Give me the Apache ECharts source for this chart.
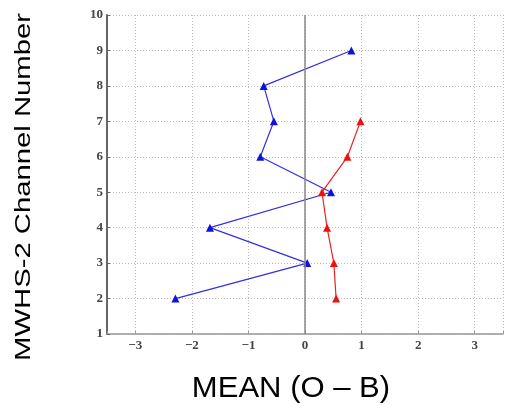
<!DOCTYPE html>
<html><head><meta charset="utf-8">
<script src="https://cdn.jsdelivr.net/npm/echarts@6/dist/echarts.min.js"></script>
<style>html,body{margin:0;padding:0;background:#fff}#c{width:506px;height:406px}</style>
</head><body><div id="c"></div>
<script>
const channels = [2, 3, 4, 5, 6, 7, 8, 9];
const blueMean = [-2.29, 0.04, -1.68, 0.46, -0.79, -0.55, -0.73, 0.82];
const redChannels = [2, 3, 4, 5, 6, 7];
const redMean = [0.55, 0.51, 0.39, 0.30, 0.75, 0.98];
const xTicks = [-3, -2, -1, 0, 1, 2, 3];
const yTicks = [1, 2, 3, 4, 5, 6, 7, 8, 9, 10];
const xTitle = 'MEAN (O \u2013 B)';
const yTitle = 'MWHS-2 Channel Number';

const chart = echarts.init(document.getElementById('c'), null, {renderer: 'canvas'});
const labelFont = {fontFamily: 'Liberation Serif', fontSize: 13, fontWeight: 'bold', color: '#444'};
chart.setOption({
  animation: false,
  backgroundColor: '#fff',
  grid: {left: 107, top: 15, right: -1, bottom: 72},
  graphic: [
    {type: 'text', x: 24, y: 187, rotation: Math.PI / 2, scaleX: 1.33,
      style: {text: yTitle, font: '22px "Liberation Sans"', fill: '#000', align: 'center', verticalAlign: 'middle'}},
    {type: 'text', x: 291, y: 389, scaleX: 1.07,
      style: {text: xTitle, font: '29px "Liberation Sans"', fill: '#000', align: 'center', verticalAlign: 'middle'}}
  ],
  xAxis: {
    type: 'value', min: -3.5, max: 3.5,
    axisLine: {show: true, onZero: false, lineStyle: {color: '#999', width: 1.5}},
    axisTick: {show: true, inside: true, length: 3, lineStyle: {color: '#999'}},
    axisLabel: Object.assign({margin: 5, formatter: v => xTicks.includes(v) ? (v < 0 ? '\u2212' + Math.abs(v) : String(v)) : ''}, labelFont),
    splitLine: {show: true, lineStyle: {type: [1, 2], color: '#bbb', width: 1}}
  },
  yAxis: {
    type: 'value', min: 1, max: 10, interval: 1,
    axisLine: {show: true, onZero: false, lineStyle: {color: '#666', width: 2}},
    axisTick: {show: true, inside: true, length: 3, lineStyle: {color: '#666'}},
    axisLabel: Object.assign({margin: 4, formatter: v => yTicks.includes(v) ? String(v) : ''}, labelFont),
    splitLine: {show: true, lineStyle: {type: [1, 2], color: '#bbb', width: 1}}
  },
  series: [
    {
      type: 'line', data: blueMean.map((x, i) => [x, channels[i]]),
      symbol: 'triangle', symbolSize: 8, color: '#1010e0',
      lineStyle: {width: 1.2, color: '#3030e0'},
      markLine: {silent: true, symbol: 'none', label: {show: false},
        lineStyle: {color: '#888', width: 1.5, type: 'solid'}, data: [{xAxis: 0}]}
    },
    {
      type: 'line', data: redMean.map((x, i) => [x, redChannels[i]]),
      symbol: 'triangle', symbolSize: 8, color: '#ee1010',
      lineStyle: {width: 1.2, color: '#ee2020'}
    }
  ]
});
</script></body></html>
